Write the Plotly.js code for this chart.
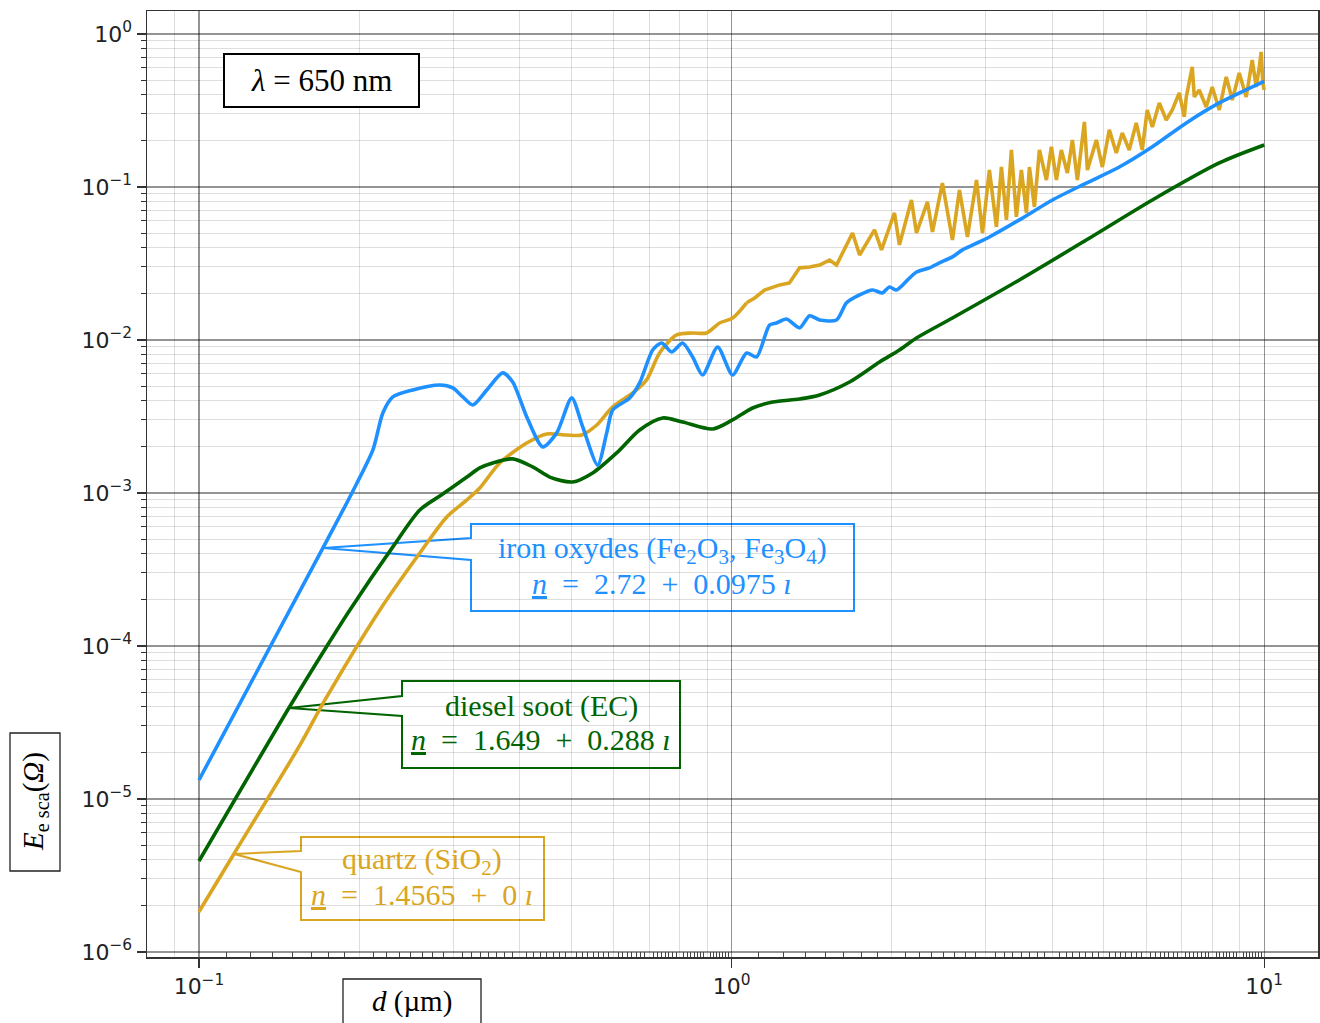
<!DOCTYPE html>
<html><head><meta charset="utf-8">
<script src="https://cdn.plot.ly/plotly-3.0.1.min.js"></script>
<style>html,body{margin:0;padding:0;background:#fff;} #chart{width:1320px;height:1023px;}</style>
</head><body><div id="chart"></div>
<script>
// ---- data ----
const dIron = [0.1, 0.1709, 0.1937, 0.2121, 0.2214, 0.2312, 0.252, 0.2833, 0.2996, 0.3129, 0.3267, 0.347, 0.3718, 0.3882, 0.4125, 0.442, 0.4696, 0.501, 0.5254, 0.5605, 0.5828, 0.5981, 0.6437, 0.6721, 0.7109, 0.7391, 0.7717, 0.8092, 0.845, 0.8823, 0.9414, 1.004, 1.067, 1.114, 1.178, 1.214, 1.268, 1.342, 1.401, 1.463, 1.574, 1.644, 1.739, 1.839, 1.92, 1.979, 2.04, 2.158, 2.224, 2.352, 2.456, 2.598, 2.713, 2.919, 3.048, 3.47, 4.003, 4.634, 5.346, 6.166, 7.14, 8.234, 10];
const eIron = [1.33e-5, 4.37e-4, 1.0e-3, 1.91e-3, 3.33e-3, 4.24e-3, 4.71e-3, 5.08e-3, 4.86e-3, 4.24e-3, 3.76e-3, 4.71e-3, 6.09e-3, 5.31e-3, 3.14e-3, 2.0e-3, 2.47e-3, 4.18e-3, 2.7e-3, 1.52e-3, 2.47e-3, 3.49e-3, 4.18e-3, 5.24e-3, 8.6e-3, 9.56e-3, 8.35e-3, 9.56e-3, 7.74e-3, 5.9e-3, 9.0e-3, 5.9e-3, 8.22e-3, 7.74e-3, 1.25e-2, 1.29e-2, 1.37e-2, 1.2e-2, 1.44e-2, 1.35e-2, 1.35e-2, 1.75e-2, 1.97e-2, 2.12e-2, 2.03e-2, 2.22e-2, 2.12e-2, 2.54e-2, 2.78e-2, 2.96e-2, 3.19e-2, 3.49e-2, 3.88e-2, 4.37e-2, 4.71e-2, 6.09e-2, 8.22e-2, 0.106, 0.135, 0.183, 0.262, 0.354, 0.49];

const dSoot = [0.1, 0.1475, 0.1739, 0.192, 0.2312, 0.2598, 0.2833, 0.2996, 0.3184, 0.3367, 0.3561, 0.3882, 0.4233, 0.4556, 0.5031, 0.5485, 0.6084, 0.6721, 0.7422, 0.8092, 0.9213, 1.004, 1.095, 1.194, 1.342, 1.463, 1.665, 1.896, 2.066, 2.224, 2.598, 3.47, 4.634, 6.166, 8.234, 10];
const eSoot = [3.93e-6, 3.93e-5, 1.0e-4, 1.72e-4, 4.44e-4, 7.74e-4, 9.56e-4, 1.094e-3, 1.27e-3, 1.457e-3, 1.57e-3, 1.67e-3, 1.479e-3, 1.27e-3, 1.18e-3, 1.351e-3, 1.826e-3, 2.58e-3, 3.09e-3, 2.91e-3, 2.62e-3, 3.0e-3, 3.59e-3, 3.93e-3, 4.115e-3, 4.37e-3, 5.31e-3, 7.18e-3, 8.6e-3, 1.03e-2, 1.392e-2, 2.467e-2, 4.5e-2, 8.22e-2, 0.1435, 0.188];

const dQuartz = [0.1, 0.1163, 0.1547, 0.1724, 0.2186, 0.2598, 0.2919, 0.3184, 0.3367, 0.367, 0.4125, 0.4497, 0.4901, 0.5231, 0.5582, 0.5981, 0.6522, 0.6924, 0.7324, 0.7885, 0.845, 0.8977, 0.9495, 1.004, 1.067, 1.105, 1.153, 1.231, 1.284, 1.342, 1.401, 1.463, 1.527, 1.574, 1.687, 1.739, 1.855, 1.912, 2.022, 2.066, 2.176, 2.224, 2.332, 2.383, 2.488, 2.598, 2.678, 2.772, 2.883, 2.958, 3.048, 3.142, 3.211, 3.281, 3.352, 3.425, 3.5, 3.577, 3.624, 3.703, 3.784, 3.9, 3.985, 4.072, 4.16, 4.27, 4.364, 4.459, 4.596, 4.656, 4.84, 4.967, 5.119, 5.276, 5.414, 5.58, 5.751, 5.902, 6.031, 6.166, 6.353, 6.548, 6.721, 6.926, 7.078, 7.14, 7.327, 7.391, 7.551, 7.783, 7.988, 8.234, 8.487, 8.71, 8.976, 9.252, 9.495, 9.66, 9.79, 9.87, 9.94, 10];
const eQuartz = [1.83e-6, 4.37e-6, 2.25e-5, 4.44e-5, 1.72e-4, 4.05e-4, 6.97e-4, 9.0e-4, 1.078e-3, 1.57e-3, 2.12e-3, 2.43e-3, 2.39e-3, 2.39e-3, 2.78e-3, 3.65e-3, 4.5e-3, 5.48e-3, 8.22e-3, 1.078e-2, 1.111e-2, 1.111e-2, 1.29e-2, 1.39e-2, 1.75e-2, 1.88e-2, 2.12e-2, 2.29e-2, 2.36e-2, 2.96e-2, 3.0e-2, 3.09e-2, 3.33e-2, 3.09e-2, 5.0e-2, 3.59e-2, 5.24e-2, 3.88e-2, 6.76e-2, 4.18e-2, 8.22e-2, 5.0e-2, 7.98e-2, 5.08e-2, 0.106, 4.5e-2, 9.56e-2, 4.71e-2, 0.111, 5.0e-2, 0.129, 5.48e-2, 0.135, 6.09e-2, 0.1745, 6.37e-2, 0.129, 6.76e-2, 0.135, 7.4e-2, 0.1745, 0.111, 0.183, 0.111, 0.1745, 0.1235, 0.203, 0.111, 0.266, 0.129, 0.203, 0.135, 0.236, 0.1667, 0.2254, 0.1745, 0.262, 0.1745, 0.3186, 0.2467, 0.354, 0.274, 0.3186, 0.4115, 0.2868, 0.3876, 0.6085, 0.3876, 0.4305, 0.3333, 0.4504, 0.3186, 0.5236, 0.3704, 0.5561, 0.3876, 0.676, 0.4504, 0.6085, 0.763, 0.4785, 0.4305];
const quartzSmoothEnd = 24;   // first points form the smooth (non-resonant) part

const xTickVals = [0.1, 1, 10];
const xTickText = ['10<sup>\u22121</sup>', '10<sup>0</sup>', '10<sup>1</sup>'];
const yTickVals = [1e-6, 1e-5, 1e-4, 1e-3, 1e-2, 1e-1, 1];
const yTickText = ['10<sup>\u22126</sup>', '10<sup>\u22125</sup>', '10<sup>\u22124</sup>', '10<sup>\u22123</sup>', '10<sup>\u22122</sup>', '10<sup>\u22121</sup>', '10<sup>0</sup>'];

const lambdaText = '<i>\u03bb</i> = 650 nm';
const ironLines = ['iron oxydes (Fe<sub>2</sub>O<sub>3</sub>, Fe<sub>3</sub>O<sub>4</sub>)', '<u><i>n</i></u>  =  2.72  +  0.0975 <i>\u0131</i>'];
const sootLines = ['diesel soot (EC)', '<u><i>n</i></u>  =  1.649  +  0.288 <i>\u0131</i>'];
const quartzLines = ['quartz (SiO<sub>2</sub>)', '<u><i>n</i></u>  =  1.4565  +  0 <i>\u0131</i>'];
const xTitle = '<i>d</i> (\u00b5m)';
const yTitle = '<i>E</i><sub>e sca</sub>(<i>\u03a9</i>)';

// ---- colours ----
const cIron = '#1E90FF', cSoot = '#006400', cQuartz = '#DAA520';

// ---- geometry helpers (pixel -> paper) ----
const W = 1320, H = 1023, M = {l:147, r:2, t:11, b:66};
const PW = W - M.l - M.r, PH = H - M.t - M.b;
const px = x => (x - M.l) / PW;
const py = y => 1 - (y - M.t) / PH;
const path = pts => 'M' + pts.map(p => px(p[0]).toFixed(5) + ',' + py(p[1]).toFixed(5)).join('L') + 'Z';

// tick positions
const xMinor = [];
for (let e = -2; e <= 1; e++) for (let k = 2; k <= 9; k++) xMinor.push(k * Math.pow(10, e));
const yMinor = [];
for (let e = -7; e <= 0; e++) for (let k = 2; k <= 9; k++) yMinor.push(k * Math.pow(10, e));
const denseVals = [];
for (let e = -1; e <= 0; e++) for (let k = 1; k <= 9; k++) for (let j = 1; j <= 7; j++) denseVals.push((k + j / 8) * Math.pow(10, e));

const xr = [-1.0976, 1.101], yr = [-6.033, 0.150];
const tickFont = {family: 'DejaVu Sans', size: 22, color: '#222'};
const serif = 'Liberation Serif';

const dummy = (xa, ya) => ({x: [1], y: [1e-3], xaxis: xa, yaxis: ya, mode: 'markers', marker: {opacity: 0}, hoverinfo: 'skip'});

const traces = [
  {x: dQuartz.slice(0, quartzSmoothEnd + 1), y: eQuartz.slice(0, quartzSmoothEnd + 1), mode: 'lines', line: {color: cQuartz, width: 3.6, shape: 'spline', smoothing: 0.8}, hoverinfo: 'skip'},
  {x: dQuartz.slice(quartzSmoothEnd), y: eQuartz.slice(quartzSmoothEnd), mode: 'lines', line: {color: cQuartz, width: 3.6}, hoverinfo: 'skip'},
  {x: dSoot, y: eSoot, mode: 'lines', line: {color: cSoot, width: 3.6, shape: 'spline', smoothing: 0.8}, hoverinfo: 'skip'},
  {x: dIron, y: eIron, mode: 'lines', line: {color: cIron, width: 3.6, shape: 'spline', smoothing: 0.7}, hoverinfo: 'skip'},
  dummy('x2', 'y'), dummy('x3', 'y'), dummy('x', 'y2')
];

const shapes = [
  {type: 'rect', xref: 'paper', yref: 'paper', x0: px(224), x1: px(419), y0: py(107), y1: py(54), line: {color: '#000', width: 2}, fillcolor: '#fff', layer: 'above'},
  {type: 'path', xref: 'paper', yref: 'paper', path: path([[471,524],[471,538],[323,548],[471,560],[471,611],[854,611],[854,524]]), line: {color: cIron, width: 2}, fillcolor: '#fff', layer: 'between'},
  {type: 'path', xref: 'paper', yref: 'paper', path: path([[402,681],[402,696],[289,708],[402,716],[402,768],[680,768],[680,681]]), line: {color: cSoot, width: 2}, fillcolor: '#fff', layer: 'between'},
  {type: 'path', xref: 'paper', yref: 'paper', path: path([[301,837],[301,851],[234,854],[301,872],[301,920],[544,920],[544,837]]), line: {color: cQuartz, width: 2}, fillcolor: '#fff', layer: 'between'},
  {type: 'rect', xref: 'paper', yref: 'paper', x0: px(343), x1: px(481), y0: py(1040), y1: py(979), line: {color: '#222', width: 1.3}, fillcolor: '#fff', layer: 'above'},
  {type: 'rect', xref: 'paper', yref: 'paper', x0: px(10), x1: px(60), y0: py(871), y1: py(733), line: {color: '#222', width: 1.3}, fillcolor: '#fff', layer: 'above'}
];

const ann = (text, x, y, color, size, extra) => Object.assign({text, xref: 'paper', yref: 'paper', x: px(x), y: py(y), xanchor: 'center', yanchor: 'middle', showarrow: false, font: {family: serif, size, color}}, extra || {});

const annotations = [
  ann(lambdaText, 321, 80, '#000', 31),
  ann(ironLines[0], 662, 550, cIron, 30), ann(ironLines[1], 662, 583, cIron, 30),
  ann(sootLines[0], 541, 706, cSoot, 30), ann(sootLines[1], 541, 739, cSoot, 30),
  ann(quartzLines[0], 422, 861, cQuartz, 30), ann(quartzLines[1], 422, 894, cQuartz, 30),
  ann(xTitle, 412, 1001, '#000', 29),
  ann(yTitle, 35, 802, '#000', 29, {textangle: -90})
];

const common = {type: 'log', zeroline: false};
const layout = {
  width: W, height: H,
  margin: {l: M.l, r: M.r, t: M.t, b: M.b, pad: 0},
  paper_bgcolor: '#fff', plot_bgcolor: '#fff',
  showlegend: false,
  // major x ticks, labels, dark grid, frame
  xaxis: Object.assign({}, common, {
    range: xr, tickmode: 'array', tickvals: xTickVals, ticktext: xTickText,
    ticks: 'outside', ticklen: 9, tickwidth: 1.3, tickcolor: '#333', tickfont: tickFont,
    showline: true, linecolor: '#333', linewidth: 1.5, mirror: true,
    showgrid: true, gridcolor: 'rgba(0,0,0,0.42)', gridwidth: 1.3
  }),
  // minor x grid
  xaxis2: Object.assign({}, common, {
    range: xr, overlaying: 'x', anchor: 'y', side: 'bottom',
    tickmode: 'array', tickvals: xMinor, ticks: '', showticklabels: false,
    showgrid: true, gridcolor: 'rgba(0,0,0,0.13)', gridwidth: 1, showline: false
  }),
  // dense small x ticks
  xaxis3: Object.assign({}, common, {
    range: xr, overlaying: 'x', anchor: 'y', side: 'bottom',
    tickmode: 'array', tickvals: denseVals, ticks: 'inside', ticklen: 5, tickwidth: 1, tickcolor: '#444',
    showticklabels: false, showgrid: false, showline: false
  }),
  yaxis: Object.assign({}, common, {
    range: yr, tickmode: 'array', tickvals: yTickVals, ticktext: yTickText,
    ticks: 'outside', ticklen: 9, tickwidth: 1.3, tickcolor: '#333', tickfont: tickFont,
    showline: true, linecolor: '#333', linewidth: 1.5, mirror: true,
    showgrid: true, gridcolor: 'rgba(0,0,0,0.42)', gridwidth: 1.3
  }),
  yaxis2: Object.assign({}, common, {
    range: yr, overlaying: 'y', anchor: 'x', side: 'left',
    tickmode: 'array', tickvals: yMinor, ticks: 'outside', ticklen: 5, tickwidth: 1, tickcolor: '#333',
    showticklabels: false, showgrid: true, gridcolor: 'rgba(0,0,0,0.13)', gridwidth: 1, showline: false
  }),
  shapes, annotations
};

Plotly.newPlot('chart', traces, layout, {displayModeBar: false, staticPlot: true});
</script>
</body></html>
